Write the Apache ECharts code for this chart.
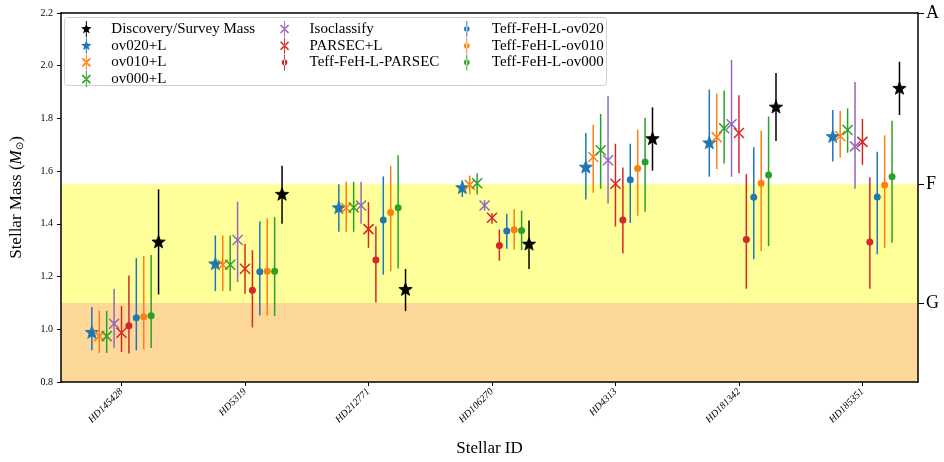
<!DOCTYPE html>
<html>
<head>
<meta charset="utf-8">
<script src="https://cdn.jsdelivr.net/npm/echarts@6/dist/echarts.min.js"></script>
<style>html,body{margin:0;padding:0;background:#fff}#c{width:944px;height:462px}</style>
</head>
<body>
<div id="c"></div>
<script>
// --- data ------------------------------------------------------------------
var stars = ['HD145428', 'HD5319', 'HD212771', 'HD106270', 'HD4313', 'HD181342', 'HD185351'];

var ov020Mass = [0.987, 1.247, 1.46, 1.536, 1.614, 1.706, 1.73];
var ov020Lo   = [0.92, 1.145, 1.37, 1.502, 1.492, 1.579, 1.637];
var ov020Hi   = [1.085, 1.356, 1.55, 1.565, 1.745, 1.91, 1.832];

var ov010Mass = [0.974, 1.245, 1.46, 1.548, 1.654, 1.729, 1.733];
var ov010Lo   = [0.91, 1.145, 1.37, 1.512, 1.518, 1.608, 1.651];
var ov010Hi   = [1.07, 1.356, 1.56, 1.583, 1.776, 1.894, 1.828];

var ov000Mass = [0.974, 1.245, 1.462, 1.554, 1.679, 1.763, 1.756];
var ov000Lo   = [0.91, 1.145, 1.37, 1.511, 1.533, 1.629, 1.67];
var ov000Hi   = [1.07, 1.356, 1.56, 1.592, 1.817, 1.906, 1.838];

var isoMass = [1.021, 1.339, 1.47, 1.47, 1.641, 1.778, 1.694];
var isoLo   = [0.93, 1.179, 1.40, 1.45, 1.477, 1.579, 1.533];
var isoHi   = [1.154, 1.484, 1.56, 1.49, 1.885, 2.022, 1.938];

var parsecMass = [0.987, 1.23, 1.38, 1.423, 1.552, 1.745, 1.711];
var parsecLo   = [0.914, 1.135, 1.309, 1.40, 1.39, 1.592, 1.624];
var parsecHi   = [1.088, 1.324, 1.482, 1.44, 1.704, 1.888, 1.798];

var tParsecMass = [1.013, 1.148, 1.263, 1.318, 1.415, 1.341, 1.331];
var tParsecLo   = [0.908, 1.007, 1.102, 1.26, 1.288, 1.154, 1.154];
var tParsecHi   = [1.204, 1.30, 1.39, 1.378, 1.614, 1.589, 1.577];

var t020Mass = [1.044, 1.218, 1.415, 1.373, 1.567, 1.501, 1.502];
var t020Lo   = [0.92, 1.052, 1.207, 1.306, 1.403, 1.266, 1.285];
var t020Hi   = [1.27, 1.409, 1.58, 1.438, 1.704, 1.691, 1.674];

var t010Mass = [1.048, 1.22, 1.443, 1.378, 1.61, 1.554, 1.547];
var t010Lo   = [0.924, 1.052, 1.22, 1.303, 1.431, 1.297, 1.309];
var t010Hi   = [1.278, 1.421, 1.62, 1.455, 1.757, 1.753, 1.736];

var t000Mass = [1.051, 1.22, 1.461, 1.375, 1.635, 1.585, 1.579];
var t000Lo   = [0.929, 1.05, 1.231, 1.30, 1.446, 1.316, 1.328];
var t000Hi   = [1.282, 1.426, 1.66, 1.45, 1.803, 1.807, 1.791];

var discMass = [1.33, 1.511, 1.15, 1.322, 1.722, 1.842, 1.913];
var discLo   = [1.132, 1.40, 1.069, 1.229, 1.602, 1.714, 1.813];
var discHi   = [1.531, 1.62, 1.229, 1.413, 1.842, 1.972, 2.015];

var bandLimits = [0.8, 1.1, 1.55];       // G-type below 1.1, F-type up to 1.55
var specValues = [1.1, 1.55, 2.2];
var specLabels = ['G', 'F', 'A'];

// --- markers -----------------------------------------------------------------
function starPath(r) {
  var pts = [];
  for (var i = 0; i < 10; i++) {
    var a = -Math.PI / 2 + i * Math.PI / 5;
    var rr = i % 2 ? r * 0.42 : r;
    pts.push((i ? 'L' : 'M') + (rr * Math.cos(a)).toFixed(2) + ',' + (rr * Math.sin(a)).toFixed(2));
  }
  return pts.join('') + 'Z';
}
var STAR = starPath(7);

var font = 'Liberation Serif';

function makeSeries(name, color, marker, mass, lo, hi, k) {
  var data = mass.map(function (m, i) { return [i + k * 0.06, m, lo[i], hi[i]]; });
  return {
    name: name,
    type: 'custom',
    itemStyle: { color: color },
    encode: { x: 0, y: 1 },
    z: 5,
    data: data,
    renderItem: function (params, api) {
      var x = api.value(0);
      var p = api.coord([x, api.value(1)]);
      var a = api.coord([x, api.value(2)]);
      var b = api.coord([x, api.value(3)]);
      var kids = [{
        type: 'line',
        shape: { x1: a[0], y1: a[1], x2: b[0], y2: b[1] },
        style: { stroke: color, lineWidth: 1.5 }
      }];
      if (marker === 'star') {
        kids.push({ type: 'path', x: p[0], y: p[1], shape: { pathData: STAR }, style: { fill: color, stroke: color, lineWidth: 0.8 } });
      } else if (marker === 'x') {
        kids.push({ type: 'path', x: p[0], y: p[1], shape: { pathData: 'M-5,-5L5,5M-5,5L5,-5' }, style: { fill: null, stroke: color, lineWidth: 1.5 } });
      } else {
        kids.push({ type: 'circle', shape: { cx: p[0], cy: p[1], r: 3.5 }, style: { fill: color } });
      }
      return { type: 'group', children: kids };
    }
  };
}

var series = [
  makeSeries('Discovery/Survey Mass', '#000000', 'star', discMass, discLo, discHi, 5),
  makeSeries('ov020+L', '#1f77b4', 'star', ov020Mass, ov020Lo, ov020Hi, -4),
  makeSeries('ov010+L', '#ff7f0e', 'x', ov010Mass, ov010Lo, ov010Hi, -3),
  makeSeries('ov000+L', '#2ca02c', 'x', ov000Mass, ov000Lo, ov000Hi, -2),
  makeSeries('Isoclassify', '#9467bd', 'x', isoMass, isoLo, isoHi, -1),
  makeSeries('PARSEC+L', '#d62728', 'x', parsecMass, parsecLo, parsecHi, 0),
  makeSeries('Teff-FeH-L-PARSEC', '#d62728', 'dot', tParsecMass, tParsecLo, tParsecHi, 1),
  makeSeries('Teff-FeH-L-ov020', '#1f77b4', 'dot', t020Mass, t020Lo, t020Hi, 2),
  makeSeries('Teff-FeH-L-ov010', '#ff7f0e', 'dot', t010Mass, t010Lo, t010Hi, 3),
  makeSeries('Teff-FeH-L-ov000', '#2ca02c', 'dot', t000Mass, t000Lo, t000Hi, 4)
];

// spectral-type background bands
series[0].markArea = {
  silent: true,
  z: 0,
  data: [
    [{ yAxis: bandLimits[0], itemStyle: { color: '#fdd898' } }, { yAxis: bandLimits[1] }],
    [{ yAxis: bandLimits[1], itemStyle: { color: '#ffff99' } }, { yAxis: bandLimits[2] }]
  ]
};

// legend icons must be filled shapes: error bar as thin bar + marker
var BAR = 'M-0.6,-10L0.6,-10L0.6,10L-0.6,10Z';
var ICONS = {
  star: 'path://' + BAR + STAR,
  x: 'path://' + BAR + 'M-5.7,-4.3L-4.3,-5.7L5.7,4.3L4.3,5.7ZM-5.7,4.3L-4.3,5.7L5.7,-4.3L4.3,-5.7Z',
  dot: 'path://' + BAR + 'M-3.5,0A3.5,3.5 0 1 0 3.5,0A3.5,3.5 0 1 0 -3.5,0Z'
};
function legendCol(names, icons, left) {
  return {
    orient: 'vertical', left: left, top: 16, itemGap: 0.7, itemWidth: 16, itemHeight: 16, z: 11,
    textStyle: { fontFamily: font, fontSize: 15, color: '#000', padding: [0, 0, 0, 12] },
    data: names.map(function (n, i) { return { name: n, icon: ICONS[icons[i]] }; })
  };
}

var chart = echarts.init(document.getElementById('c'), null, { renderer: 'canvas' });
chart.setOption({
  animation: false,
  grid: { left: 57, right: 26, top: 13, bottom: 74 },
  graphic: [{
    type: 'rect', left: 64, top: 17, z: 10, silent: true,
    shape: { width: 542, height: 68, r: 3 },
    style: { fill: 'rgba(255,255,255,0.85)', stroke: '#d0d0d0', lineWidth: 1 }
  }],
  legend: [
    legendCol(['Discovery/Survey Mass', 'ov020+L', 'ov010+L', 'ov000+L'], ['star', 'star', 'x', 'x'], 76),
    legendCol(['Isoclassify', 'PARSEC+L', 'Teff-FeH-L-PARSEC'], ['x', 'x', 'dot'], 275),
    legendCol(['Teff-FeH-L-ov020', 'Teff-FeH-L-ov010', 'Teff-FeH-L-ov000'], ['dot', 'dot', 'dot'], 459)
  ],
  xAxis: [{
    type: 'value', min: -0.49, max: 6.45,
    name: 'Stellar ID', nameLocation: 'middle', nameGap: 58,
    nameTextStyle: { fontFamily: font, fontSize: 17, color: '#000' },
    axisLine: { onZero: false, lineStyle: { color: '#000', width: 1.5 } },
    axisTick: { customValues: [0, 1, 2, 3, 4, 5, 6], length: 4, lineStyle: { color: '#000' } },
    axisLabel: {
      customValues: [0, 1, 2, 3, 4, 5, 6], rotate: 45, fontFamily: font, fontStyle: 'italic',
      fontSize: 10, color: '#000', formatter: function (v) { return stars[Math.round(v)]; }
    },
    splitLine: { show: false }
  }, {
    type: 'value', position: 'top', min: -0.49, max: 6.45,
    axisLine: { onZero: false, lineStyle: { color: '#000', width: 1.5 } },
    axisTick: { show: false }, axisLabel: { show: false }, splitLine: { show: false }
  }],
  yAxis: [{
    type: 'value', min: 0.8, max: 2.2, interval: 0.2,
    name: 'Stellar Mass ({i|M}{s|⊙})', nameLocation: 'middle', nameGap: 36,
    nameTextStyle: {
      fontFamily: font, fontSize: 17, color: '#000',
      rich: { i: { fontFamily: font, fontStyle: 'italic', fontSize: 17 }, s: { fontFamily: 'DejaVu Sans', fontSize: 10, verticalAlign: 'bottom', padding: [6, 0, 0, 0] } }
    },
    axisLine: { show: true, onZero: false, lineStyle: { color: '#000', width: 1.5 } },
    axisTick: { show: true, length: 4, lineStyle: { color: '#000' } },
    axisLabel: { fontFamily: font, fontSize: 10, color: '#000', formatter: function (v) { return v.toFixed(1); } },
    splitLine: { show: false }
  }, {
    type: 'value', min: 0.8, max: 2.2, position: 'right',
    axisLine: { show: true, onZero: false, lineStyle: { color: '#000', width: 1.5 } },
    axisTick: { show: true, customValues: specValues, length: 6, lineStyle: { color: '#000' } },
    axisLabel: {
      customValues: specValues, fontFamily: font, fontSize: 18, color: '#000',
      formatter: function (v) { return specLabels[specValues.indexOf(v)] || ''; }
    },
    splitLine: { show: false }
  }],
  series: series
});
</script>
</body>
</html>
